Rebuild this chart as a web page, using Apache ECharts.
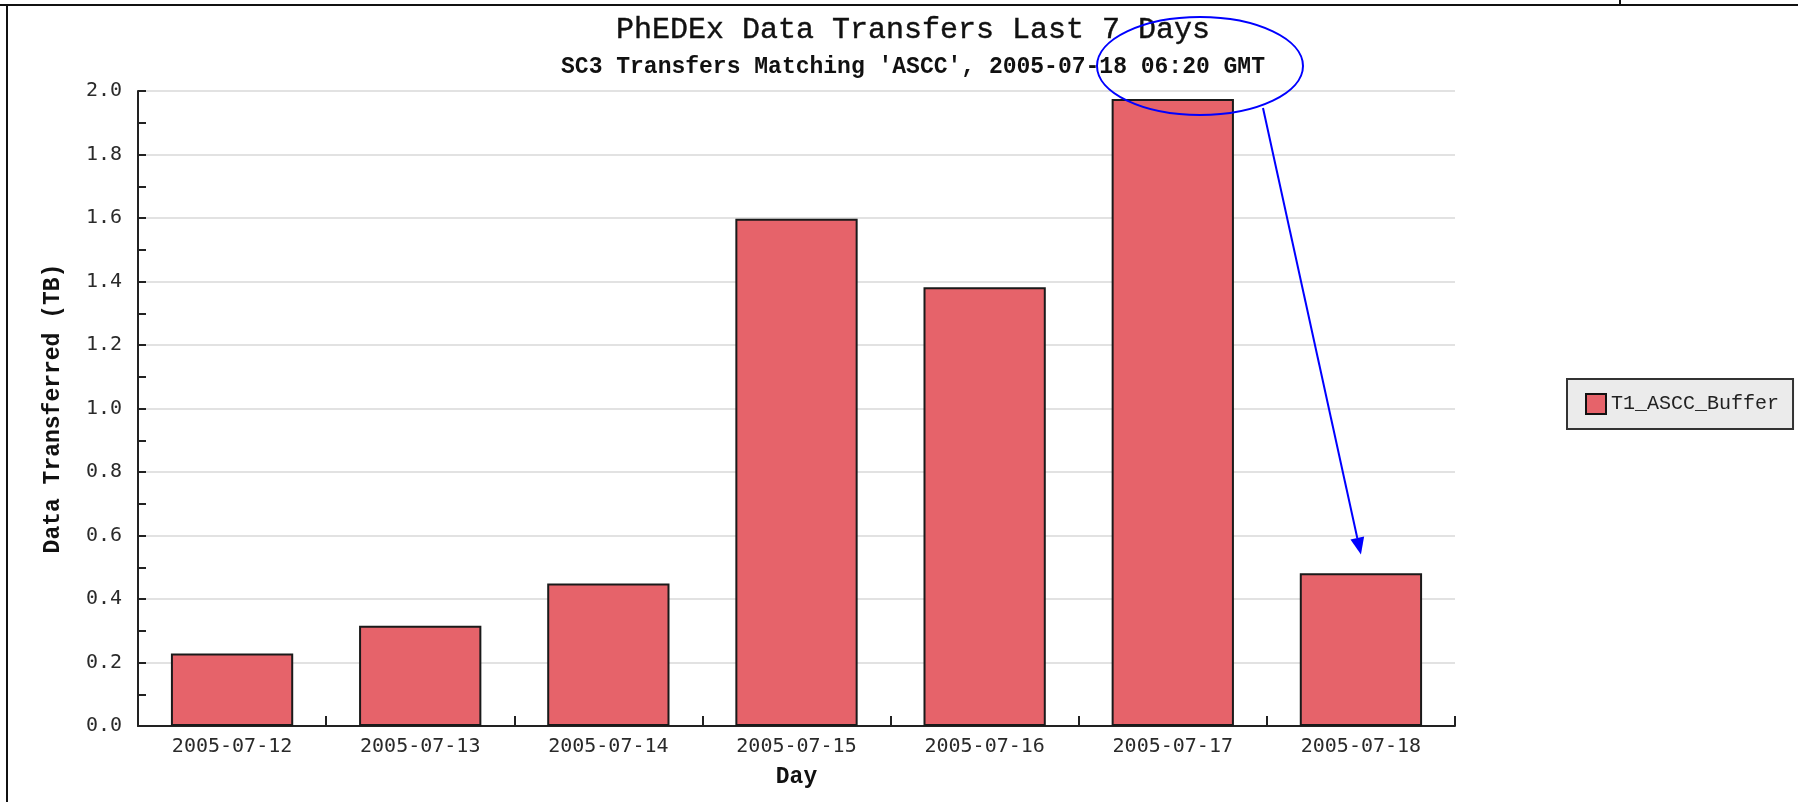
<!DOCTYPE html>
<html>
<head>
<meta charset="utf-8">
<script src="https://cdn.jsdelivr.net/npm/echarts@6/dist/echarts.min.js"></script>
<style>
html,body{margin:0;padding:0;background:#fff;}
#chart{width:1798px;height:802px;}
</style>
</head>
<body>
<div id="chart"></div>
<script>
// ---- data ----
const days = ['2005-07-12', '2005-07-13', '2005-07-14', '2005-07-15', '2005-07-16', '2005-07-17', '2005-07-18'];
const transferredTB = [0.228, 0.316, 0.449, 1.598, 1.382, 1.975, 0.481];
const seriesName = 'T1_ASCC_Buffer';
const yMin = 0;
const yMax = 2.0;
const yStep = 0.2;
const titleText = 'PhEDEx Data Transfers Last 7 Days';
const subtitleText = "SC3 Transfers Matching 'ASCC', 2005-07-18 06:20 GMT";
const arrowTarget = ['2005-07-18', 0.54];

const chart = echarts.init(document.getElementById('chart'), null, {renderer: 'canvas'});
const mono = '"DejaVu Sans Mono", "Liberation Mono", monospace';
const mono2 = '"Liberation Mono", "DejaVu Sans Mono", monospace';

const option = {
  backgroundColor: '#ffffff',
  animation: false,
  title: [
    {
      text: titleText,
      left: 908, top: 10, textAlign: 'center',
      textStyle: {fontFamily: mono2, fontSize: 30, fontWeight: 'normal', color: '#111', textBorderColor: '#111', textBorderWidth: 0.4}
    },
    {
      text: subtitleText,
      left: 908, top: 51, textAlign: 'center',
      textStyle: {fontFamily: mono2, fontSize: 23, fontWeight: 'bold', color: '#111'}
    }
  ],
  legend: {
    data: [seriesName],
    left: 1567, top: 379,
    orient: 'vertical',
    backgroundColor: '#ebebeb',
    borderColor: '#333',
    borderWidth: 2,
    borderRadius: 0,
    padding: [14, 14, 14, 18],
    itemWidth: 20, itemHeight: 20,
    icon: 'rect',
    itemStyle: {borderColor: '#111', borderWidth: 2},
    textStyle: {fontFamily: mono2, fontSize: 20, color: '#222'}
  },
  grid: {left: 138, right: 343, top: 91, bottom: 76, containLabel: false},
  xAxis: {
    type: 'category',
    data: days,
    boundaryGap: true,
    name: 'Day',
    nameLocation: 'middle',
    nameGap: 40,
    nameTextStyle: {fontFamily: mono2, fontSize: 23, fontWeight: 'bold', color: '#111'},
    axisLine: {show: true, lineStyle: {color: '#222', width: 2}},
    axisTick: {show: true, inside: true, length: 10, interval: 0, alignWithLabel: false, lineStyle: {color: '#222', width: 2}},
    axisLabel: {fontFamily: mono, fontSize: 20, color: '#2a2a2a', margin: 11, interval: 0},
    splitLine: {show: false}
  },
  yAxis: {
    type: 'value',
    min: yMin, max: yMax, interval: yStep,
    name: 'Data Transferred (TB)',
    nameLocation: 'middle',
    nameGap: 73,
    nameRotate: 90,
    nameTextStyle: {fontFamily: mono2, fontSize: 23, fontWeight: 'bold', color: '#111'},
    axisLine: {show: true, lineStyle: {color: '#222', width: 2}},
    axisTick: {show: true, inside: true, length: 8, lineStyle: {color: '#222', width: 2}},
    minorTick: {show: true, splitNumber: 2, length: 8, lineStyle: {color: '#222', width: 2}},
    axisLabel: {fontFamily: mono, fontSize: 20, color: '#2a2a2a', margin: 16, formatter: v => v.toFixed(1)},
    splitLine: {show: true, lineStyle: {color: '#e2e2e2', width: 2}}
  },
  series: [{
    name: seriesName,
    type: 'bar',
    data: transferredTB,
    barCategoryGap: '35%',
    itemStyle: {color: '#e6636a', borderColor: '#1a1a1a', borderWidth: 2},
    emphasis: {disabled: true}
  }]
};
chart.setOption(option);

// Annotation drawn on top (ellipse around timestamp, arrow to last bar)
const tip = chart.convertToPixel({xAxisIndex: 0, yAxisIndex: 0}, arrowTarget);
const start = [1263, 108];
const dx = tip[0] - start[0], dy = tip[1] - start[1];
const len = Math.sqrt(dx * dx + dy * dy);
const ux = dx / len, uy = dy / len;
const headLen = 17, headHalf = 7;
const bx = tip[0] - ux * headLen, by = tip[1] - uy * headLen;
const p1 = [bx - uy * headHalf, by + ux * headHalf];
const p2 = [bx + uy * headHalf, by - ux * headHalf];

chart.setOption({
  graphic: [
    {type: 'line', shape: {x1: 0, y1: 5, x2: 1798, y2: 5}, style: {stroke: '#111', lineWidth: 2}, z: 100, silent: true},
    {type: 'line', shape: {x1: 7, y1: 4, x2: 7, y2: 802}, style: {stroke: '#111', lineWidth: 2}, z: 100, silent: true},
    {type: 'line', shape: {x1: 1620, y1: 0, x2: 1620, y2: 5}, style: {stroke: '#111', lineWidth: 2}, z: 100, silent: true},
    {type: 'ellipse', shape: {cx: 1200, cy: 66, rx: 103, ry: 49}, style: {stroke: '#0000ff', fill: null, lineWidth: 2}, z: 100, silent: true},
    {type: 'line', shape: {x1: start[0], y1: start[1], x2: bx, y2: by}, style: {stroke: '#0000ff', lineWidth: 2}, z: 100, silent: true},
    {type: 'polygon', shape: {points: [tip, p1, p2]}, style: {fill: '#0000ff'}, z: 100, silent: true}
  ]
});
</script>
</body>
</html>
